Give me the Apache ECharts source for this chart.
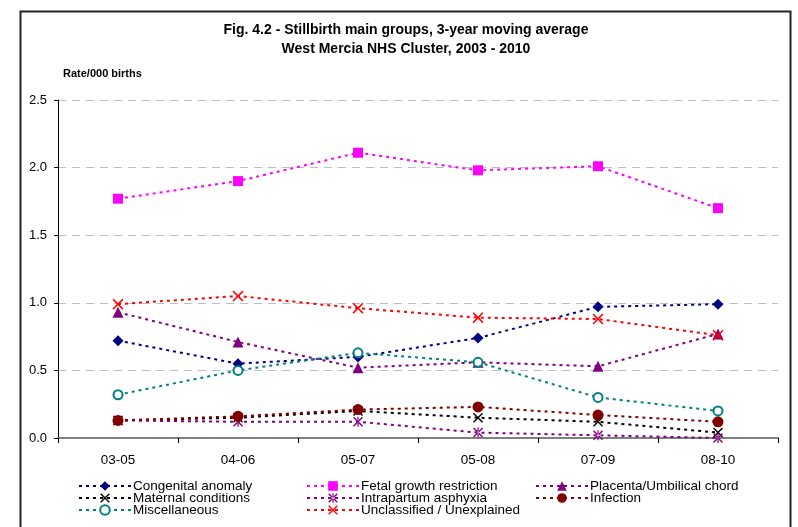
<!DOCTYPE html>
<html>
<head>
<meta charset="utf-8">
<script src="https://cdn.jsdelivr.net/npm/echarts@6/dist/echarts.min.js"></script>
<style>
html,body{margin:0;padding:0;background:#fff;}
#c{width:798px;height:527px;}
</style>
</head>
<body>
<div id="c"></div>
<script>
const categories = ['03-05','04-06','05-07','05-08','07-09','08-10'];
const congenital   = [0.72, 0.55, 0.60, 0.74, 0.97, 0.99];
const fetal        = [1.77, 1.90, 2.11, 1.98, 2.01, 1.70];
const placenta     = [0.93, 0.71, 0.52, 0.56, 0.53, 0.77];
const maternal     = [0.13, 0.15, 0.20, 0.15, 0.12, 0.04];
const intrapartum  = [0.13, 0.12, 0.12, 0.04, 0.02, 0.00];
const infection    = [0.13, 0.16, 0.21, 0.23, 0.17, 0.12];
const misc         = [0.32, 0.50, 0.63, 0.56, 0.30, 0.20];
const unclassified = [0.99, 1.05, 0.96, 0.89, 0.88, 0.76];
const yTicks = [0, 0.5, 1.0, 1.5, 2.0, 2.5];

const FONT = "'Liberation Sans', Arial, sans-serif";
const X_PATH = 'path://M0,1L1,0L5,4L9,0L10,1L6,5L10,9L9,10L5,6L1,10L0,9L4,5Z';
const STAR_PATH = 'path://M0,1L1,0L5,4L9,0L10,1L6,5L10,9L9,10L5,6L1,10L0,9L4,5Z M4.4,0L4.4,10L5.6,10L5.6,0Z';

function mk(name, data, color, symbol, size, extra) {
  return Object.assign({
    name: name,
    type: 'line',
    data: data,
    symbol: symbol,
    symbolSize: size,
    showAllSymbol: true,
    color: color,
    itemStyle: { color: color },
    lineStyle: { color: color, width: 2, type: [3, 4] },
    emphasis: { disabled: true },
    z: 3
  }, extra || {});
}

const series = [
  mk('Congenital anomaly', congenital, '#000080', 'diamond', 11),
  mk('Fetal growth restriction', fetal, '#FF00FF', 'rect', 10),
  mk('Placenta/Umbilical chord', placenta, '#800080', 'triangle', 11),
  mk('Maternal conditions', maternal, '#000000', X_PATH, 10),
  mk('Intrapartum asphyxia', intrapartum, '#800080', STAR_PATH, 10),
  mk('Infection', infection, '#800000', 'circle', 11),
  mk('Miscellaneous', misc, '#008080', 'emptyCircle', 9, { itemStyle: { color: '#008080', borderWidth: 1.6 } }),
  mk('Unclassified / Unexplained', unclassified, '#FF0000', X_PATH, 11)
];

function legend(left, names) {
  return {
    type: 'plain',
    orient: 'vertical', left: left, top: 479,
    height: 60,
    padding: 0,
    itemWidth: 52, itemHeight: 12, itemGap: -2,
    selectedMode: false,
    textStyle: { fontFamily: FONT, fontSize: 13.5, lineHeight: 12, color: '#000', padding: [0, 0, 0, -3] },
    data: names
  };
}

const chart = echarts.init(document.getElementById('c'), null, { renderer: 'canvas' });
chart.setOption({
  backgroundColor: '#fff',
  animation: false,
  title: {
    text: 'Fig. 4.2 - Stillbirth main groups, 3-year moving average\nWest Mercia NHS Cluster, 2003 - 2010',
    left: 401, textAlign: 'center', top: 16,
    textStyle: { fontFamily: FONT, fontSize: 14, fontWeight: 'bold', color: '#000', lineHeight: 19 }
  },
  legend: [
    legend(78, ['Congenital anomaly', 'Maternal conditions', 'Miscellaneous']),
    legend(306, ['Fetal growth restriction', 'Intrapartum asphyxia', 'Unclassified / Unexplained']),
    legend(535, ['Placenta/Umbilical chord', 'Infection'])
  ],
  grid: { left: 58, right: 20, top: 100, bottom: 89, containLabel: false },
  xAxis: {
    type: 'category',
    data: categories,
    boundaryGap: true,
    axisLine: { lineStyle: { color: '#808080', width: 2 } },
    axisTick: { show: true, length: 5, inside: false, lineStyle: { color: '#000', width: 1 } },
    axisLabel: { fontFamily: FONT, fontSize: 13.5, color: '#000', margin: 15 },
    splitLine: { show: false }
  },
  yAxis: {
    type: 'value',
    min: 0, max: 2.5, interval: 0.5,
    name: 'Rate/000 births',
    nameLocation: 'end',
    nameGap: 21,
    nameTextStyle: { fontFamily: FONT, fontSize: 11, fontWeight: 'bold', color: '#000', align: 'left', padding: [0, 0, 0, 5] },
    axisLine: { show: true, lineStyle: { color: '#000', width: 1 } },
    axisTick: { show: true, length: 4, lineStyle: { color: '#000' } },
    axisLabel: { fontFamily: FONT, fontSize: 13, color: '#000', margin: 11, formatter: v => v.toFixed(1) },
    splitLine: { show: true, lineStyle: { color: '#BFBFBF', width: 1, type: [8, 6] } }
  },
  graphic: [{
    type: 'rect', left: 18, top: 9, silent: true, z: 100,
    shape: { width: 770, height: 530 },
    style: { fill: null, stroke: '#222', lineWidth: 2 }
  }],
  series: series
});
</script>
</body>
</html>
